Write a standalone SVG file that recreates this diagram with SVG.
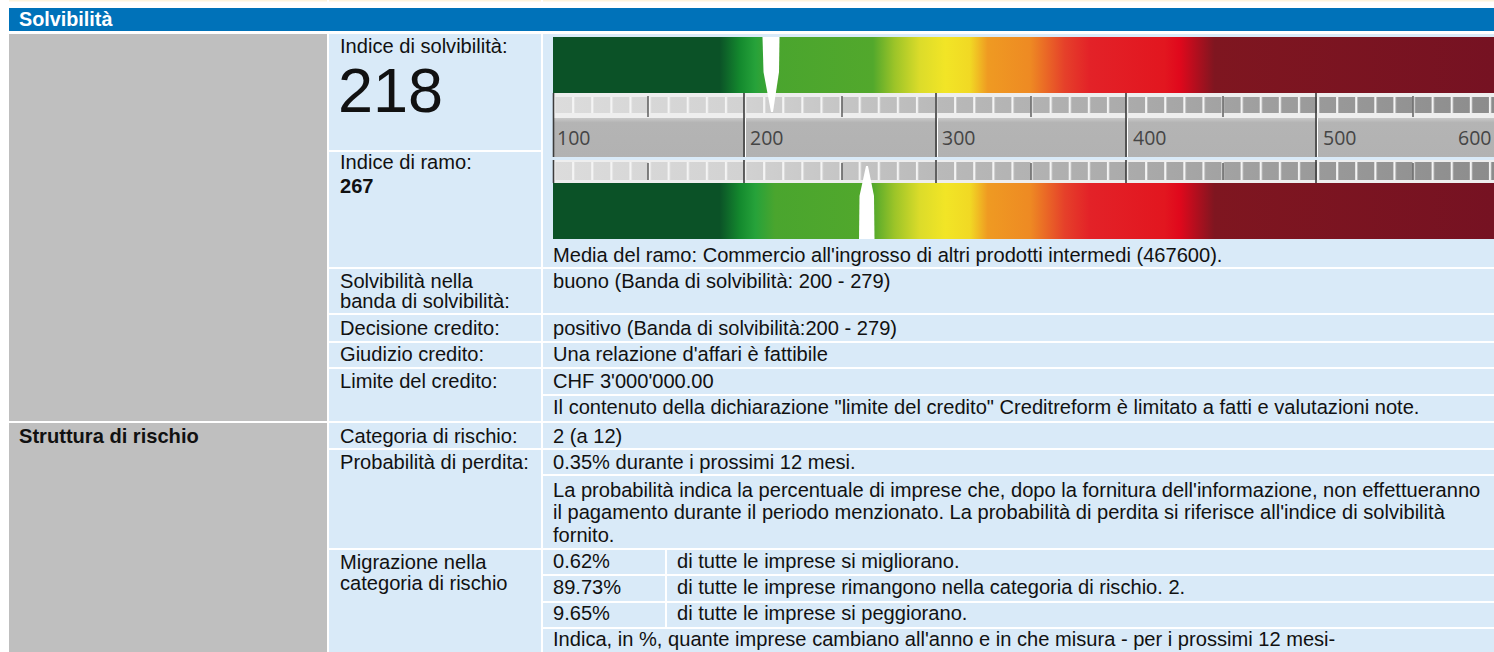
<svg xmlns="http://www.w3.org/2000/svg" width="1494" height="652" viewBox="0 0 1494 652">
<style>
.t{font-family:"Liberation Sans",Arial,sans-serif;font-size:20.1px;fill:#111}
.b{font-weight:bold}
.h{font-family:"Liberation Sans",Arial,sans-serif;font-size:19.8px;font-weight:bold;fill:#fff}
.big{font-family:"Liberation Sans",Arial,sans-serif;font-size:63px;fill:#111}
.sc{font-family:"Open Sans","Noto Sans",sans-serif;font-size:19.5px;fill:#454545}
.c{fill:#D9EAF8}
.g{fill:#BFBFBF}
.cr{fill:#FDF3DB}
.maj{stroke:#3c3c3c;stroke-width:1.6}
.majw{stroke:#ffffff;stroke-width:1}
.min{stroke:#555;stroke-width:1.4}
</style>
<defs>
<linearGradient id="rg" gradientUnits="userSpaceOnUse" x1="553" y1="0" x2="1494" y2="0">
<stop offset="0" stop-color="#0B5227"/>
<stop offset="0.177" stop-color="#0B5227"/>
<stop offset="0.199" stop-color="#148A2E"/>
<stop offset="0.215" stop-color="#26A23A"/>
<stop offset="0.236" stop-color="#4AA52E"/>
<stop offset="0.340" stop-color="#52A82C"/>
<stop offset="0.363" stop-color="#9CC428"/>
<stop offset="0.390" stop-color="#DCDC2A"/>
<stop offset="0.417" stop-color="#F2E526"/>
<stop offset="0.443" stop-color="#F1D924"/>
<stop offset="0.462" stop-color="#EF9A22"/>
<stop offset="0.507" stop-color="#EE8A23"/>
<stop offset="0.544" stop-color="#E5402A"/>
<stop offset="0.570" stop-color="#E32228"/>
<stop offset="0.650" stop-color="#E2161F"/>
<stop offset="0.666" stop-color="#E0081C"/>
<stop offset="0.703" stop-color="#7F1620"/>
<stop offset="1" stop-color="#761222"/>
</linearGradient>
<linearGradient id="bx" gradientUnits="userSpaceOnUse" x1="553" y1="0" x2="1494" y2="0">
<stop offset="0" stop-color="#DCDCDC"/>
<stop offset="0.2" stop-color="#D2D2D2"/>
<stop offset="0.41" stop-color="#B9B9B9"/>
<stop offset="0.61" stop-color="#ABABAB"/>
<stop offset="0.81" stop-color="#9A9A9A"/>
<stop offset="1" stop-color="#8C8C8C"/>
</linearGradient>
<pattern id="st" patternUnits="userSpaceOnUse" x="553" y="0" width="19.1" height="40">
<rect x="0" y="0" width="2.2" height="40" fill="#F4F4F4"/>
</pattern>
<linearGradient id="lb" x1="0" y1="0" x2="0" y2="1">
<stop offset="0" stop-color="#C8C8C8"/>
<stop offset="0.12" stop-color="#B4B4B4"/>
<stop offset="1" stop-color="#B2B2B2"/>
</linearGradient>
</defs>

<g id="top-strip">
<rect class="cr" x="9" y="0" width="318" height="1.5"/>
<rect class="cr" x="329" y="0" width="212" height="1.5"/>
<rect class="cr" x="543" y="0" width="951" height="1.5"/>
</g>

<g id="header">
<rect x="9" y="8" width="1485" height="23" fill="#0072B9"/>
<text class="h" x="19" y="26">Solvibilità</text>
</g>

<g id="left-column">
<rect class="g" x="9" y="34" width="318" height="387"/>
<rect class="g" x="9" y="423" width="318" height="229"/>
<text class="t b" x="19" y="443">Struttura di rischio</text>
</g>

<g id="row-indice-solvibilita">
<rect class="c" x="329" y="34" width="212" height="116"/>
<text class="t" x="340" y="53">Indice di solvibilità:</text>
<text class="big" x="338" y="112">218</text>
</g>

<g id="row-indice-ramo">
<rect class="c" x="329" y="152" width="212" height="115"/>
<text class="t" x="340" y="169">Indice di ramo:</text>
<text class="t b" x="340" y="193">267</text>
</g>

<g id="gauges">
<rect class="c" x="543" y="34" width="951" height="233"/>
<rect x="553" y="37" width="941" height="56" fill="url(#rg)"/>
<rect x="553" y="93" width="941" height="25" fill="#EEEEEE"/>
<rect x="553" y="97" width="941" height="16" fill="url(#bx)"/>
<rect x="553" y="97" width="941" height="16" fill="url(#st)"/>
<rect x="553" y="118" width="941" height="39" fill="url(#lb)"/>
<g id="ticks1">
<line class="maj" x1="553.5" y1="93" x2="553.5" y2="157"/>
<line class="maj" x1="744" y1="93" x2="744" y2="157"/><line class="majw" x1="745.5" y1="118" x2="745.5" y2="157"/>
<line class="maj" x1="936" y1="93" x2="936" y2="157"/><line class="majw" x1="937.5" y1="118" x2="937.5" y2="157"/>
<line class="maj" x1="1126" y1="93" x2="1126" y2="157"/><line class="majw" x1="1127.5" y1="118" x2="1127.5" y2="157"/>
<line class="maj" x1="1316" y1="93" x2="1316" y2="157"/><line class="majw" x1="1317.5" y1="118" x2="1317.5" y2="157"/>
<line class="min" x1="648" y1="96" x2="648" y2="117"/>
<line class="min" x1="842" y1="96" x2="842" y2="117"/>
<line class="min" x1="1031" y1="96" x2="1031" y2="117"/>
<line class="min" x1="1223" y1="96" x2="1223" y2="117"/>
<line class="min" x1="1413" y1="96" x2="1413" y2="117"/>
</g>
<text class="sc" x="557" y="145">100</text>
<text class="sc" x="750" y="145">200</text>
<text class="sc" x="942" y="145">300</text>
<text class="sc" x="1133" y="145">400</text>
<text class="sc" x="1323" y="145">500</text>
<text class="sc" x="1458" y="145">600</text>
<polygon points="762.5,37 779.5,37 779,72 773,112 771,112 763.5,72" fill="#ffffff"/>
<rect x="553" y="160" width="941" height="23" fill="#EEEEEE"/>
<rect x="553" y="162" width="941" height="18" fill="url(#bx)"/>
<rect x="553" y="162" width="941" height="18" fill="url(#st)"/>
<rect x="553" y="183" width="941" height="56" fill="url(#rg)"/>
<g id="ticks2">
<line class="maj" x1="553.5" y1="160" x2="553.5" y2="183"/>
<line class="maj" x1="744" y1="160" x2="744" y2="183"/>
<line class="maj" x1="936" y1="160" x2="936" y2="183"/>
<line class="maj" x1="1126" y1="160" x2="1126" y2="183"/>
<line class="maj" x1="1316" y1="160" x2="1316" y2="183"/>
<line class="min" x1="648" y1="163" x2="648" y2="180"/>
<line class="min" x1="842" y1="163" x2="842" y2="180"/>
<line class="min" x1="1031" y1="163" x2="1031" y2="180"/>
<line class="min" x1="1223" y1="163" x2="1223" y2="180"/>
<line class="min" x1="1413" y1="163" x2="1413" y2="180"/>
</g>
<polygon points="866,166 868,166 874,196 874.5,239 859,239 859.5,196" fill="#ffffff"/>
<text class="t" x="553" y="262">Media del ramo: Commercio all'ingrosso di altri prodotti intermedi (467600).</text>
</g>

<g id="row-banda">
<rect class="c" x="329" y="269" width="212" height="44"/>
<rect class="c" x="543" y="269" width="951" height="44"/>
<text class="t" x="340" y="288">Solvibilità nella</text>
<text class="t" x="340" y="308">banda di solvibilità:</text>
<text class="t" x="553" y="288">buono (Banda di solvibilità: 200 - 279)</text>
</g>

<g id="row-decisione">
<rect class="c" x="329" y="315" width="212" height="26"/>
<rect class="c" x="543" y="315" width="951" height="26"/>
<text class="t" x="340" y="335">Decisione credito:</text>
<text class="t" x="553" y="335">positivo (Banda di solvibilità:200 - 279)</text>
</g>

<g id="row-giudizio">
<rect class="c" x="329" y="343" width="212" height="24"/>
<rect class="c" x="543" y="343" width="951" height="24"/>
<text class="t" x="340" y="361">Giudizio credito:</text>
<text class="t" x="553" y="361">Una relazione d'affari è fattibile</text>
</g>

<g id="row-limite">
<rect class="c" x="329" y="369" width="212" height="52"/>
<rect class="c" x="543" y="369" width="951" height="25"/>
<rect class="c" x="543" y="396" width="951" height="25"/>
<text class="t" x="340" y="388">Limite del credito:</text>
<text class="t" x="553" y="388">CHF 3'000'000.00</text>
<text class="t" x="553" y="414">Il contenuto della dichiarazione "limite del credito" Creditreform è limitato a fatti e valutazioni note.</text>
</g>

<g id="row-categoria">
<rect class="c" x="329" y="423" width="212" height="25"/>
<rect class="c" x="543" y="423" width="951" height="25"/>
<text class="t" x="340" y="443">Categoria di rischio:</text>
<text class="t" x="553" y="443">2 (a 12)</text>
</g>

<g id="row-probabilita">
<rect class="c" x="329" y="450" width="212" height="98"/>
<rect class="c" x="543" y="450" width="951" height="24"/>
<rect class="c" x="543" y="476" width="951" height="72"/>
<text class="t" x="340" y="469">Probabilità di perdita:</text>
<text class="t" x="553" y="469">0.35% durante i prossimi 12 mesi.</text>
<text class="t" x="553" y="497">La probabilità indica la percentuale di imprese che, dopo la fornitura dell'informazione, non effettueranno</text>
<text class="t" x="553" y="519">il pagamento durante il periodo menzionato. La probabilità di perdita si riferisce all'indice di solvibilità</text>
<text class="t" x="553" y="542">fornito.</text>
</g>

<g id="row-migrazione">
<rect class="c" x="329" y="550" width="212" height="102"/>
<rect class="c" x="543" y="550" width="122" height="24"/>
<rect class="c" x="667" y="550" width="827" height="24"/>
<rect class="c" x="543" y="576" width="122" height="25"/>
<rect class="c" x="667" y="576" width="827" height="25"/>
<rect class="c" x="543" y="603" width="122" height="24"/>
<rect class="c" x="667" y="603" width="827" height="24"/>
<rect class="c" x="543" y="629" width="951" height="23"/>
<text class="t" x="340" y="569">Migrazione nella</text>
<text class="t" x="340" y="590">categoria di rischio</text>
<text class="t" x="553" y="568">0.62%</text>
<text class="t" x="677" y="568">di tutte le imprese si migliorano.</text>
<text class="t" x="553" y="594">89.73%</text>
<text class="t" x="677" y="594">di tutte le imprese rimangono nella categoria di rischio. 2.</text>
<text class="t" x="553" y="620">9.65%</text>
<text class="t" x="677" y="620">di tutte le imprese si peggiorano.</text>
<text class="t" x="553" y="646">Indica, in %, quante imprese cambiano all'anno e in che misura - per i prossimi 12 mesi-</text>
</g>
</svg>
